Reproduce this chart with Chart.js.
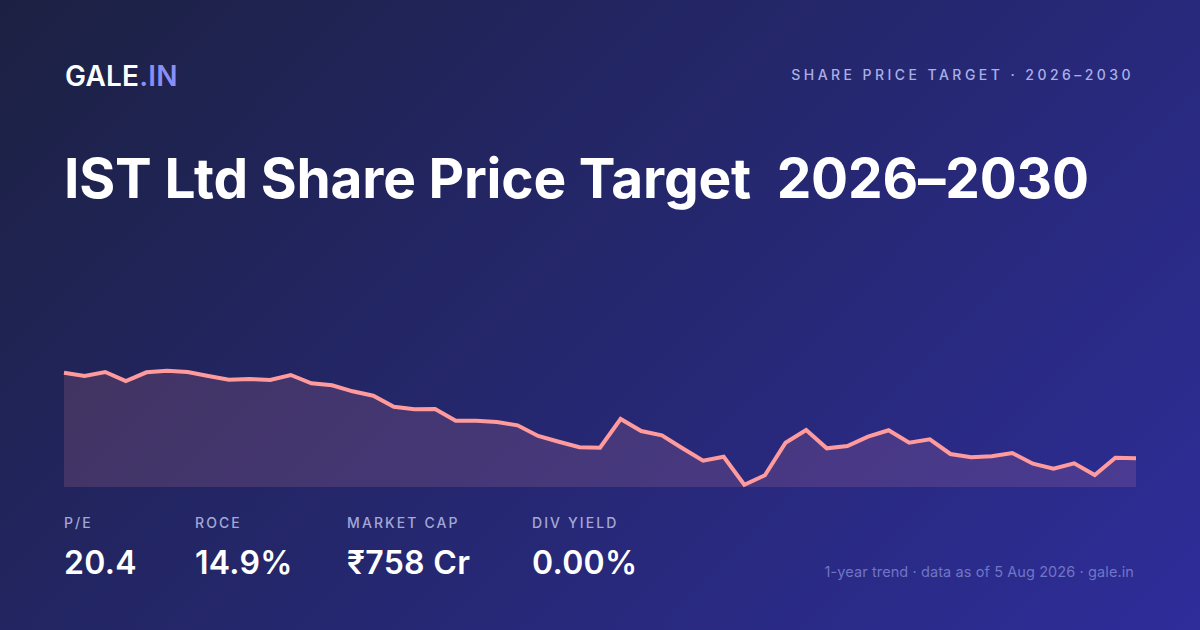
<!DOCTYPE html>
<html>
<head>
<meta charset="utf-8">
<script src="https://cdn.jsdelivr.net/npm/chart.js@4.4.1/dist/chart.umd.min.js"></script>
<style>
  html, body { margin: 0; padding: 0; }
  body {
    width: 1200px; height: 630px; overflow: hidden; position: relative;
    background: linear-gradient(135deg, #1c2142 0%, #25276e 50%, #2e2d9a 100%);
    font-family: Inter, "Noto Sans", sans-serif; color: #fff;
  }
  .logo { position: absolute; left: 65px; top: 60px; font-size: 28px; font-weight: 600; letter-spacing: 0.2px; line-height: 32px; }
  .logo span { color: #8a8ff8; }
  .tag { position: absolute; right: 66px; top: 66px; font-size: 14px; font-weight: 500; letter-spacing: 3.45px; color: #aab0e6; line-height: 18px; }
  h1 { position: absolute; left: 64px; top: 143px; margin: 0; font-size: 55px; font-weight: 700; letter-spacing: -0.2px; line-height: 70px; white-space: pre; }
  #wrap { position: absolute; left: 54px; top: 340px; width: 1092px; height: 150px; }
  .stat { position: absolute; top: 514px; }
  .stat .k { font-size: 14px; font-weight: 500; letter-spacing: 2.1px; color: #a3a8d8; line-height: 18px; }
  .stat .v { font-size: 32px; font-weight: 600; margin-top: 13px; line-height: 36px; letter-spacing: 0.3px; }
  .foot { position: absolute; right: 66px; top: 563px; font-size: 14.5px; letter-spacing: 0.1px; color: #7076c4; line-height: 18px; }
</style>
</head>
<body>
<div class="logo">GALE<span>.IN</span></div>
<div class="tag">SHARE PRICE TARGET · 2026–2030</div>
<h1>IST Ltd Share Price Target  2026–2030</h1>
<div id="wrap"><canvas id="trendChart"></canvas></div>
<div class="stat" style="left:64px"><div class="k">P/E</div><div class="v">20.4</div></div>
<div class="stat" style="left:195px"><div class="k">ROCE</div><div class="v">14.9%</div></div>
<div class="stat" style="left:347px"><div class="k">MARKET CAP</div><div class="v">₹758 Cr</div></div>
<div class="stat" style="left:532px"><div class="k">DIV YIELD</div><div class="v">0.00%</div></div>
<div class="foot">1-year trend · data as of 5 Aug 2026 · gale.in</div>
<script>
// weekly closing prices over the last year (53 weeks)
const weeks = [];
for (let i = 0; i < 53; i++) weeks.push('W' + (i + 1));
const prices = [
  264.3, 261, 265, 256, 264.7, 266.3, 265, 261, 257.3, 258,
  257, 262, 253.7, 251.7, 245.7, 241.3, 230.3, 227.7, 228, 216.3,
  216.3, 215, 211.7, 201, 195.3, 189.7, 189.3, 218, 206, 201.7,
  188.7, 176.3, 180.3, 152.3, 161.7, 194.3, 207, 188.7, 191, 200.3,
  206.7, 194.3, 197.7, 183, 179.7, 180.7, 184, 173.3, 168.3, 173.7,
  162, 179.3, 178.7
];
const yMin = 150;
const yMax = 287;

const ctx = document.getElementById('trendChart').getContext('2d');
const chart = new Chart(ctx, {
  type: 'line',
  data: {
    labels: weeks,
    datasets: [
      {
        data: prices,
        borderColor: '#ff9b9c',
        borderWidth: 4,
        backgroundColor: 'rgba(255, 150, 160, 0.15)',
        fill: 'start',
        pointRadius: 0,
        tension: 0,
        borderJoinStyle: 'miter',
        clip: false,
      },
    ],
  },
  options: {
    responsive: true,
    maintainAspectRatio: false,
    animation: false,
    layout: { padding: { left: 10, right: 10, top: 10, bottom: 3 } },
    plugins: { legend: { display: false }, tooltip: { enabled: false } },
    scales: {
      x: { display: false, offset: false },
      y: { display: false, min: yMin, max: yMax },
    },
  },
});
</script>
</body>
</html>
